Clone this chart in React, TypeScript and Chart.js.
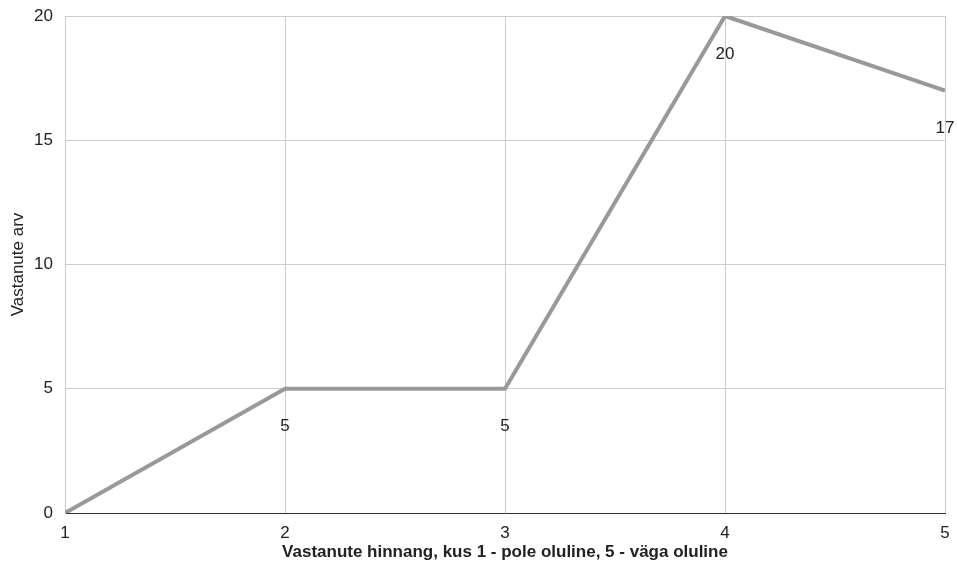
import React, { useEffect, useRef } from "react";
import { Chart, registerables } from "chart.js";

Chart.register(...registerables);

const xValues = [1, 2, 3, 4, 5];
const counts = [0, 5, 5, 20, 17];
const yTicks = [0, 5, 10, 15, 20];
const xTitle = "Vastanute hinnang, kus 1 - pole oluline, 5 - väga oluline";
const yTitle = "Vastanute arv";

const FONT = "Arial, 'Liberation Sans', sans-serif";

const labelPlugin = {
  id: "pointLabels",
  afterDatasetsDraw(chart: any) {
    const ctx = chart.ctx;
    const meta = chart.getDatasetMeta(0);
    ctx.save();
    ctx.font = `17px ${FONT}`;
    ctx.fillStyle = "#222222";
    ctx.textAlign = "center";
    ctx.textBaseline = "middle";
    meta.data.forEach((pt: any, i: number) => {
      const v = counts[i];
      if (v === 0) return;
      ctx.fillText(String(v), pt.x, pt.y + 38);
    });
    ctx.restore();
  },
};

export default function App() {
  const ref = useRef<HTMLCanvasElement>(null);
  useEffect(() => {
    document.body.style.margin = "0";
    const chart = new Chart(ref.current!, {
      type: "line",
      data: {
        datasets: [
          {
            data: xValues.map((x, i) => ({ x, y: counts[i] })),
            borderColor: "#999999",
            borderWidth: 4,
            pointRadius: 0,
            tension: 0,
            fill: false,
          },
        ],
      },
      options: {
        animation: false,
        responsive: false,
        maintainAspectRatio: false,
        layout: { padding: { top: 16, right: 12, left: 0, bottom: 0 } },
        plugins: { legend: { display: false }, tooltip: { enabled: false } },
        scales: {
          x: {
            type: "linear",
            min: 1,
            max: 5,
            afterFit(scale: any) {
              scale.height = 56;
              scale.paddingLeft = 0;
              scale.paddingRight = 0;
            },
            afterBuildTicks(scale: any) {
              scale.ticks = xValues.map((v) => ({ value: v }));
            },
            ticks: {
              font: { family: FONT, size: 17 },
              color: "#222222",
              padding: 10,
              maxRotation: 0,
            },
            grid: { color: "#cccccc", drawTicks: false, lineWidth: 1 },
            border: { color: "#333333", width: 1 },
            title: {
              display: true,
              text: xTitle,
              font: { family: FONT, size: 17, weight: "bold" },
              color: "#222222",
              padding: { top: 0, bottom: 6 },
            },
          },
          y: {
            min: 0,
            max: 20,
            afterFit(scale: any) {
              scale.width = 65;
              scale.paddingTop = 0;
              scale.paddingBottom = 0;
            },
            afterBuildTicks(scale: any) {
              scale.ticks = yTicks.map((v) => ({ value: v }));
            },
            ticks: {
              font: { family: FONT, size: 17 },
              color: "#222222",
              padding: 12,
            },
            grid: { color: "#cccccc", drawTicks: false, lineWidth: 1 },
            border: { color: "#cccccc", width: 1 },
            title: {
              display: true,
              text: yTitle,
              font: { family: FONT, size: 17 },
              color: "#222222",
              padding: { top: 8, bottom: 0 },
            },
          },
        },
      },
      plugins: [labelPlugin],
    } as any);
    return () => chart.destroy();
  }, []);
  return (
    <div style={{ width: 957, height: 569 }}>
      <canvas ref={ref} width={957} height={569} style={{ display: "block" }} />
    </div>
  );
}
